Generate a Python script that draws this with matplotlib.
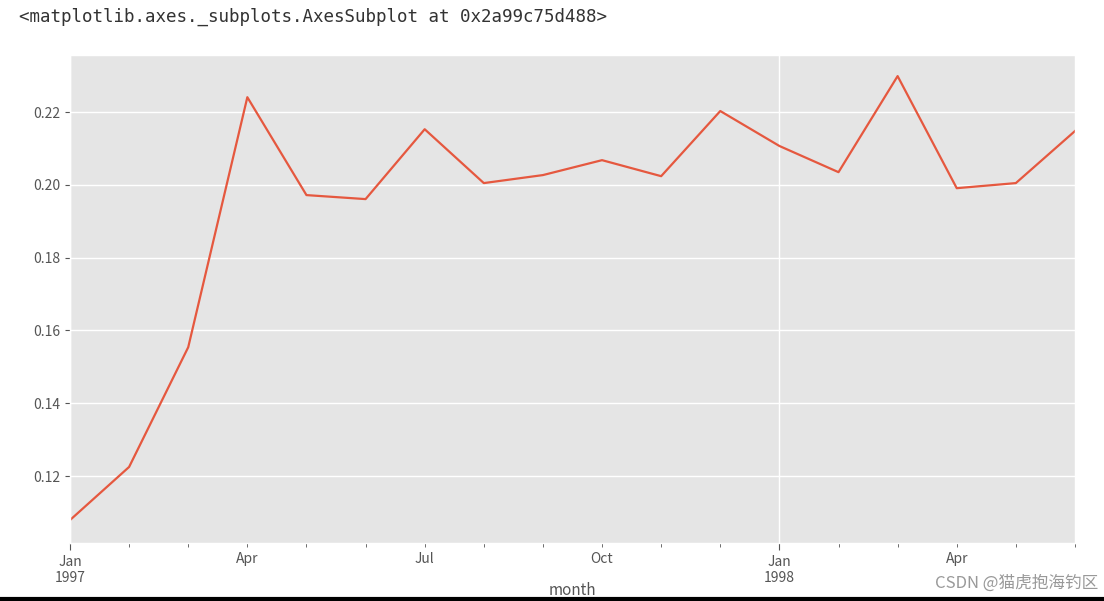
import matplotlib
matplotlib.use('Agg')
import matplotlib.pyplot as plt
from matplotlib.lines import Line2D

plt.style.use('ggplot')
plt.rcParams['font.family'] = ['Noto Sans CJK SC', 'DejaVu Sans']

# 每月数据 1997-01 ~ 1998-06
months = ['1997-01', '1997-02', '1997-03', '1997-04', '1997-05', '1997-06',
          '1997-07', '1997-08', '1997-09', '1997-10', '1997-11', '1997-12',
          '1998-01', '1998-02', '1998-03', '1998-04', '1998-05', '1998-06']
values = [0.1079, 0.1225, 0.1554, 0.2241, 0.1972, 0.1961,
          0.2153, 0.2005, 0.2027, 0.2068, 0.2024, 0.2203,
          0.2107, 0.2035, 0.2299, 0.1991, 0.2005, 0.2148]

major_pos = [0, 12]
major_labels = ['Jan\n1997', 'Jan\n1998']
minor_pos = [3, 6, 9, 15]
minor_labels = ['Apr', 'Jul', 'Oct', 'Apr']

fig = plt.figure(figsize=(11.04, 6.01), dpi=100)
fig.patch.set_facecolor('white')
ax = fig.add_axes([0.0634, 0.0965, 0.9103, 0.812])

x = list(range(len(months)))
ax.plot(x, values, color='#E5583F', linewidth=1.6)

ax.set_xlim(0, len(months) - 1)
ax.set_ylim(0.1016, 0.2357)
ax.set_yticks([0.12, 0.14, 0.16, 0.18, 0.20, 0.22])
ax.set_yticklabels(['0.12', '0.14', '0.16', '0.18', '0.20', '0.22'])

ax.set_xticks(major_pos)
ax.set_xticklabels(major_labels)
ax.set_xticks(x, minor=True)
ax.set_xticklabels(['' if i not in minor_pos else minor_labels[minor_pos.index(i)] for i in x],
                   minor=True)
ax.tick_params(axis='both', which='both', labelsize=10, labelcolor='#555555', color='#555555')
ax.tick_params(axis='x', which='minor', length=3)
ax.tick_params(axis='x', which='major', length=5)
ax.grid(True, which='major', color='white', linewidth=1.0)
ax.grid(False, which='minor')
ax.set_xlabel('month', fontsize=11, color='#555555', labelpad=-2)

fig.text(0.017, 0.972, '<matplotlib.axes._subplots.AxesSubplot at 0x2a99c75d488>',
         fontsize=12.6, family='DejaVu Sans Mono', color='#333333', va='center')
fig.text(0.995, 0.03, 'CSDN @猫虎抱海钓区', fontsize=12, color='#999999', ha='right', va='center')
fig.add_artist(Line2D([0, 1], [0.003, 0.003], color='black', linewidth=3))

plt.savefig('out.png', dpi=100)
